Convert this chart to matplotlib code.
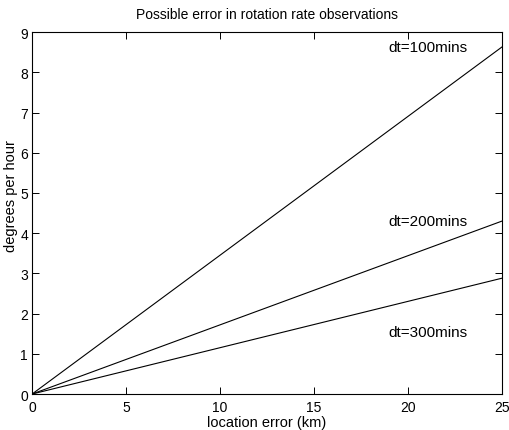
import matplotlib
matplotlib.use("Agg")
from matplotlib import pyplot as plt

plt.rcParams['font.family'] = ['Liberation Sans', 'DejaVu Sans']

# location error (km) and rotation-rate error (deg/hour) for each time step
x_km = [0, 25]
err_100 = [0, 8.63]
err_200 = [0, 4.30]
err_300 = [0, 2.88]
labels = ['dt=100mins', 'dt=200mins', 'dt=300mins']
label_y = [8.63, 4.30, 1.54]

fig = plt.figure(figsize=(5.1, 4.31), dpi=100)
ax = fig.add_axes([0.063, 0.0835, 0.921, 0.8395])

for ys in (err_100, err_200, err_300):
    ax.plot(x_km, ys, color='black', linewidth=0.8)

for lab, ly in zip(labels, label_y):
    ax.text(21.05, ly, lab, ha='center', va='center', fontsize=11)

ax.set_xlim(0, 25)
ax.set_ylim(0, 9)
ax.set_xticks(range(0, 26, 5))
ax.set_yticks(range(0, 10))
ax.tick_params(direction='in', top=True, right=True, labelsize=10, length=5, width=0.7)
ax.tick_params(axis='x', pad=4)
ax.tick_params(axis='y', pad=3)
for sp in ax.spines.values():
    sp.set_linewidth(0.8)

ax.set_title('Possible error in rotation rate observations', fontsize=10, pad=10)
ax.set_xlabel('location error (km)', fontsize=10.5, labelpad=1)
ax.set_ylabel('degrees per hour', fontsize=10.5)
ax.yaxis.set_label_coords(-0.031, 0.55)

fig.savefig('out.png', dpi=100)
